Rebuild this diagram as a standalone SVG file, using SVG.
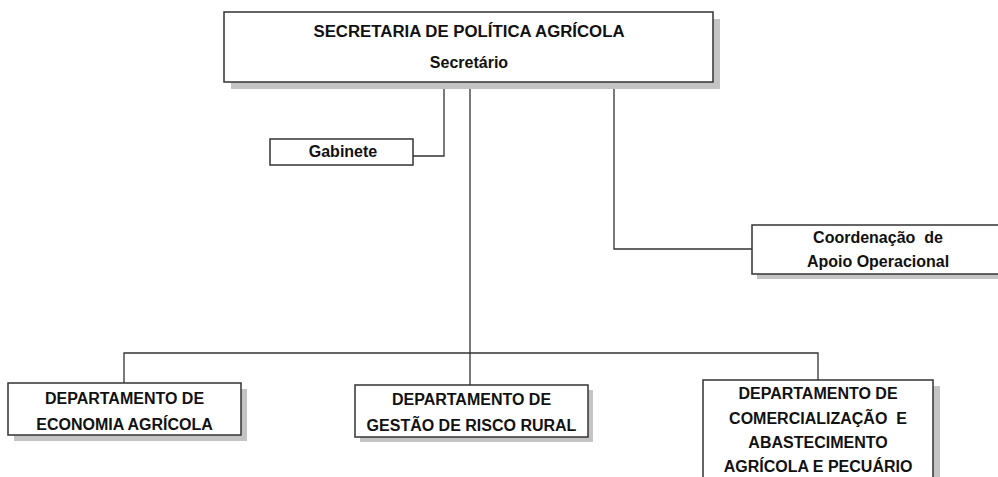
<svg xmlns="http://www.w3.org/2000/svg" width="998" height="477" viewBox="0 0 998 477">
<style>
.box{fill:#ffffff;stroke:#333333;stroke-width:1.5}
.shadow{fill:#c4c4c4;stroke:none}
.t{font-family:"Liberation Sans",Arial,sans-serif;font-weight:bold;font-size:16px;fill:#111111;text-anchor:middle}
.conn{fill:none;stroke:#333333;stroke-width:1.3}
</style>
<rect width="998" height="477" fill="#ffffff"/>
<g id="connectors">
<polyline class="conn" points="444,82 444,156 413,156"/>
<polyline class="conn" points="470,82 470,385"/>
<polyline class="conn" points="614,82 614,249 752,249"/>
<polyline class="conn" points="124,383 124,353 818,353 818,380"/>
</g>
<g id="secretaria">
<rect class="shadow" x="231" y="19" width="489" height="70"/>
<rect class="box" x="224" y="12" width="489" height="70"/>
<text class="t" x="469" y="37" style="font-size:16.8px">SECRETARIA DE POLÍTICA AGRÍCOLA</text>
<text class="t" x="469" y="68">Secretário</text>
</g>
<g id="gabinete">
<rect class="box" x="270" y="139" width="143" height="26"/>
<text class="t" x="343" y="157">Gabinete</text>
</g>
<g id="coordenacao">
<rect class="shadow" x="757" y="230" width="250" height="49"/>
<rect class="box" x="752" y="225" width="252" height="49"/>
<text class="t" x="878" y="243" xml:space="preserve">Coordenação  de</text>
<text class="t" x="878" y="267">Apoio Operacional</text>
</g>
<g id="dep-economia">
<rect class="shadow" x="14" y="389" width="233" height="52"/>
<rect class="box" x="8" y="383" width="233" height="52"/>
<text class="t" x="124.5" y="404">DEPARTAMENTO DE</text>
<text class="t" x="124.5" y="430">ECONOMIA AGRÍCOLA</text>
</g>
<g id="dep-risco">
<rect class="shadow" x="360" y="390" width="233" height="52"/>
<rect class="box" x="355" y="385" width="233" height="52"/>
<text class="t" x="471.5" y="405">DEPARTAMENTO DE</text>
<text class="t" x="471.5" y="431">GESTÃO DE RISCO RURAL</text>
</g>
<g id="dep-comercializacao">
<rect class="shadow" x="709" y="386" width="231" height="100"/>
<rect class="box" x="703" y="380" width="230" height="100"/>
<text class="t" x="818" y="399">DEPARTAMENTO DE</text>
<text class="t" x="818" y="424" xml:space="preserve">COMERCIALIZAÇÃO  E</text>
<text class="t" x="818" y="448">ABASTECIMENTO</text>
<text class="t" x="818" y="472">AGRÍCOLA E PECUÁRIO</text>
</g>
</svg>
